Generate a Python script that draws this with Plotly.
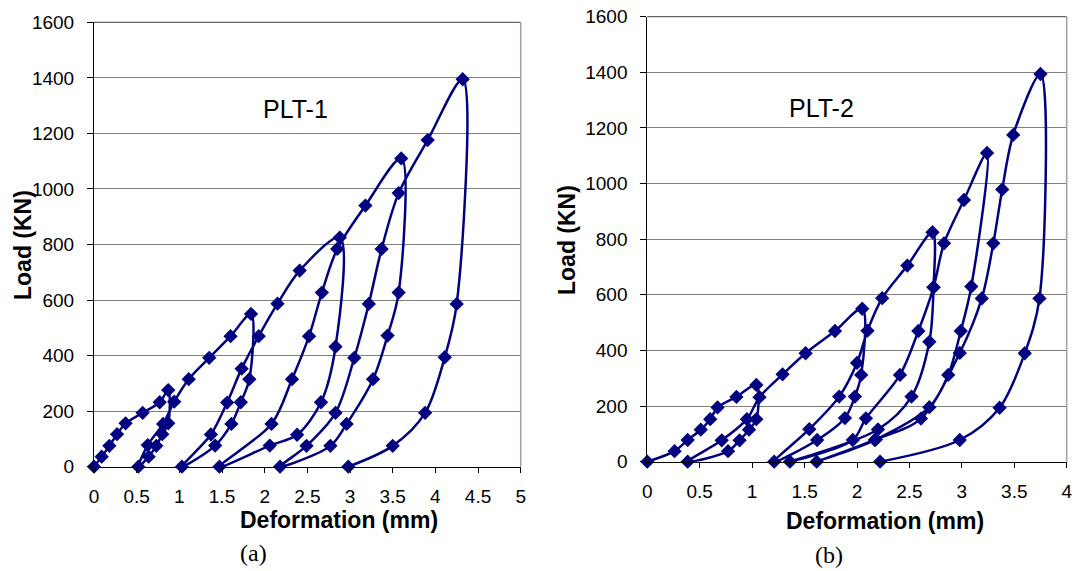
import plotly.graph_objects as go

# ---------------- data ----------------
# PLT-1 : cyclic load / deformation path (load, unload, reload ...)
plt1_deformation = [
    0.00, 0.09, 0.18, 0.27, 0.37, 0.57, 0.77, 0.87,          # loading 1
    0.87, 0.80, 0.73, 0.64, 0.52,                            # unloading 1
    0.63, 0.81, 0.94, 1.11, 1.35, 1.60, 1.84,                # reloading -> peak 2
    1.82, 1.72, 1.61, 1.42, 1.03,                            # unloading 2
    1.37, 1.56, 1.73, 1.93, 2.15, 2.41, 2.88,                # reloading -> peak 3
    2.83, 2.66, 2.38, 2.06, 1.47,                            # unloading 3
    2.08, 2.32, 2.52, 2.67, 2.85, 3.18, 3.60,                # reloading -> peak 4
    3.57, 3.44, 3.27, 2.96, 2.77, 2.18,                      # unloading 4
    2.49, 2.83, 3.05, 3.22, 3.37, 3.57, 3.91, 4.32,          # reloading -> peak 5
    4.25, 4.11, 3.88, 3.50, 2.98,                            # unloading 5
]
plt1_load = [
    0, 36, 75, 117, 156, 194, 232, 276,
    156, 117, 75, 36, 0,
    78, 154, 234, 315, 392, 470, 550,
    315, 232, 154, 76, 0,
    116, 231, 353, 470, 587, 706, 825,
    432, 232, 115, 76, 0,
    154, 315, 470, 627, 784, 940, 1110,
    627, 472, 315, 154, 75, 0,
    75, 194, 392, 586, 784, 985, 1176, 1395,
    586, 394, 194, 75, 0,
]

# PLT-2
plt2_deformation = [
    0.00, 0.26, 0.385, 0.51, 0.60, 0.67, 0.85, 1.04,         # loading 1
    1.04, 0.97, 0.88, 0.77, 0.385,                           # unloading 1
    0.71, 0.95, 1.07, 1.29, 1.51, 1.79, 2.05,                # reloading -> peak 2
    2.04, 1.98, 1.885, 1.62, 1.21,                           # unloading 2
    1.545, 1.83, 2.00, 2.10, 2.24, 2.48, 2.72,               # reloading -> peak 3
    2.73, 2.69, 2.52, 2.20, 1.36,                            # unloading 3
    1.96, 2.085, 2.41, 2.585, 2.73, 2.83, 3.02, 3.24,        # reloading -> peak 4
    3.09, 2.99, 2.87, 2.69, 2.17, 1.615,                     # unloading 4
    2.18, 2.61, 2.98, 3.19, 3.30, 3.385, 3.49, 3.75,         # reloading -> peak 5
    3.74, 3.60, 3.36, 2.98, 2.22,                            # unloading 5
]
plt2_load = [
    0, 38, 78, 115, 153, 195, 233, 276,
    153, 115, 77, 38, 0,
    77, 153, 232, 314, 390, 470, 550,
    312, 234, 157, 78, 0,
    117, 234, 355, 471, 588, 705, 825,
    627, 431, 234, 116, 0,
    78, 156, 312, 470, 627, 785, 941, 1110,
    630, 470, 312, 196, 78, 0,
    80, 155, 391, 587, 785, 979, 1175, 1394,
    587, 390, 194, 78, 0,
]

panel_labels = ["PLT-1", "PLT-2"]
captions = ["(a)", "(b)"]
x_title = "Deformation (mm)"
y_title = "Load (KN)"
plt1_xticks = [0, 0.5, 1, 1.5, 2, 2.5, 3, 3.5, 4, 4.5, 5]
plt2_xticks = [0, 0.5, 1, 1.5, 2, 2.5, 3, 3.5, 4]
y_ticks = [0, 200, 400, 600, 800, 1000, 1200, 1400, 1600]

# ---------------- figure ----------------
W, H = 1075, 571
NAVY = "#000080"
SANS = "Liberation Sans, Arial, sans-serif"

def px(x):
    return x / W

def py(y):
    return 1 - y / H

fig = go.Figure()

series = [
    (plt1_deformation, plt1_load, "x", "y"),
    (plt2_deformation, plt2_load, "x2", "y2"),
]
for xs, ys, xa, ya in series:
    fig.add_trace(go.Scatter(
        x=xs, y=ys, xaxis=xa, yaxis=ya, mode="lines+markers",
        line=dict(color=NAVY, width=2.5, shape="spline", smoothing=0.9),
        marker=dict(symbol="diamond", size=11, color=NAVY),
        showlegend=False, hoverinfo="x+y", cliponaxis=False,
    ))

# plot-area pixel boxes
left_box = (94, 520.7, 22.3, 466.7)
right_box = (647.3, 1066.7, 16.7, 461.7)

def xaxis_cfg(box, rng, ticks):
    return dict(
        domain=[px(box[0]), px(box[1])], range=rng, tickvals=ticks,
        ticktext=[f"{t:g}" for t in ticks],
        showgrid=False, zeroline=False, showline=True, linecolor="black",
        linewidth=1, ticks="outside", ticklen=5, tickcolor="black",
        tickfont=dict(family=SANS, size=19, color="black"),
        ticklabelstandoff=7, fixedrange=True, automargin=False,
    )

def yaxis_cfg(box, anchor):
    return dict(
        domain=[py(box[3]), py(box[2])], range=[0, 1600], tickvals=y_ticks,
        showgrid=True, gridcolor="#808080", gridwidth=1, zeroline=False,
        showline=True, linecolor="black", linewidth=1,
        ticks="outside", ticklen=6, tickcolor="black",
        tickfont=dict(family=SANS, size=19, color="black"),
        ticklabelstandoff=9, anchor=anchor, fixedrange=True, automargin=False,
    )

fig.update_layout(
    width=W, height=H, margin=dict(l=0, r=0, t=0, b=0),
    paper_bgcolor="white", plot_bgcolor="white",
    xaxis=dict(**xaxis_cfg(left_box, [0, 5], plt1_xticks), anchor="y"),
    yaxis=yaxis_cfg(left_box, "x"),
    xaxis2=dict(**xaxis_cfg(right_box, [0, 4], plt2_xticks), anchor="y2"),
    yaxis2=yaxis_cfg(right_box, "x2"),
)

# plot-area borders (top + right) like the Excel chart frame
for box in (left_box, right_box):
    x0, x1, y0, y1 = box
    fig.add_shape(type="line", xref="paper", yref="paper",
                  x0=px(x0), x1=px(x1), y0=py(y0), y1=py(y0),
                  line=dict(color="#404040", width=1))
    fig.add_shape(type="line", xref="paper", yref="paper",
                  x0=px(x1), x1=px(x1), y0=py(y0), y1=py(y1),
                  line=dict(color="#a0a0a0", width=1.5))

# text annotations
SERIF = "Liberation Serif, Times New Roman, serif"
texts = [
    (panel_labels[0], 295, 109, dict(family=SANS, size=25, color="black"), 0),
    (panel_labels[1], 821, 108, dict(family=SANS, size=25, color="black"), 0),
    (x_title, 339, 520, dict(family=SANS, size=23, color="black"), 0),
    (x_title, 885, 521, dict(family=SANS, size=23, color="black"), 0),
    (y_title, 23, 245, dict(family=SANS, size=23, color="black"), -90),
    (y_title, 567, 240, dict(family=SANS, size=23, color="black"), -90),
    (captions[0], 253, 553, dict(family=SERIF, size=24, color="black"), 0),
    (captions[1], 829, 555, dict(family=SERIF, size=24, color="black"), 0),
]
for txt, x, y, font, ang in texts:
    bold = txt in (x_title, y_title)
    fig.add_annotation(
        text=f"<b>{txt}</b>" if bold else txt, x=px(x), y=py(y),
        xref="paper", yref="paper", showarrow=False, font=font,
        textangle=ang, xanchor="center", yanchor="middle",
    )

fig.write_html("out.html")
